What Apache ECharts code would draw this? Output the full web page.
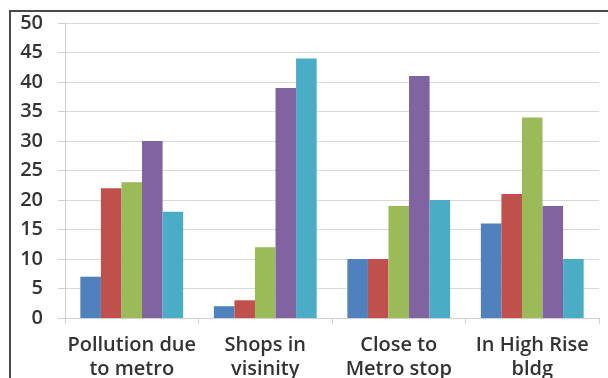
<!DOCTYPE html>
<html>
<head>
<meta charset="utf-8">
<script src="https://cdn.jsdelivr.net/npm/echarts@6/dist/echarts.min.js"></script>
<style>
  html, body { margin: 0; padding: 0; background: #fff; }
  #chart { width: 608px; height: 378px; }
</style>
</head>
<body>
<div id="chart"></div>
<script>
// Survey categories along the x axis
const categories = ['Pollution due\nto metro', 'Shops in\nvisinity', 'Close to\nMetro stop', 'In High Rise\nbldg'];

// Five response series, one bar per category each
const series1 = [7, 2, 10, 16];
const series2 = [22, 3, 10, 21];
const series3 = [23, 12, 19, 34];
const series4 = [30, 39, 41, 19];
const series5 = [18, 44, 20, 10];

const seriesValues = [series1, series2, series3, series4, series5];
const seriesColors = ['#4F81BD', '#C0504D', '#9BBB59', '#8064A2', '#4BACC6'];

// Y axis scale
const yMin = 0;
const yMax = 50;
const yStep = 5;

const font = '"Open Sans", Lato, sans-serif';

const chart = echarts.init(document.getElementById('chart'), null, { renderer: 'canvas' });

chart.setOption({
  animation: false,
  backgroundColor: '#ffffff',
  grid: { left: 65, right: 9, top: 23, bottom: 60, containLabel: false, outerBoundsMode: 'none' },
  xAxis: {
    type: 'category',
    data: categories,
    axisLine: { show: true, lineStyle: { color: '#d0d0d0', width: 1 } },
    axisTick: { show: true, length: 6, inside: false, alignWithLabel: false, lineStyle: { color: '#d0d0d0' } },
    axisLabel: {
      color: '#333333',
      fontFamily: font,
      fontSize: 20,
      fontWeight: 600,
      lineHeight: 24,
      margin: 15,
      interval: 0
    },
    splitLine: { show: false }
  },
  yAxis: {
    type: 'value',
    min: yMin,
    max: yMax,
    interval: yStep,
    axisLine: { show: true, lineStyle: { color: '#d0d0d0', width: 1 } },
    axisTick: { show: true, length: 7, lineStyle: { color: '#d0d0d0' } },
    axisLabel: {
      color: '#333333',
      fontFamily: font,
      fontSize: 20,
      fontWeight: 600,
      margin: 22
    },
    splitLine: { show: true, lineStyle: { color: '#d9d9d9', width: 1 } }
  },
  series: seriesValues.map((vals, i) => ({
    type: 'bar',
    data: vals,
    barGap: '0%',
    barCategoryGap: '23%',
    itemStyle: { color: seriesColors[i] }
  })),
  graphic: [
    {
      type: 'polyline',
      silent: true,
      shape: { points: [[10, 378], [10, 11], [608, 11]] },
      style: { stroke: '#4a4a4a', lineWidth: 2, fill: null }
    }
  ]
});
</script>
</body>
</html>
